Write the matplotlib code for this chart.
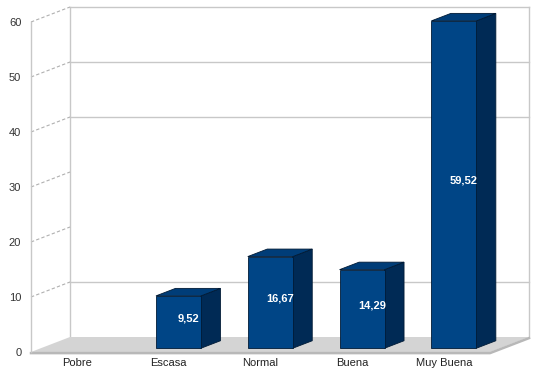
import matplotlib
matplotlib.use('Agg')
import matplotlib.pyplot as plt
from matplotlib.patches import Polygon
from matplotlib.lines import Line2D

categories = ['Pobre', 'Escasa', 'Normal', 'Buena', 'Muy Buena']
values = [0, 9.52, 16.67, 14.29, 59.52]
value_labels = ['', '9,52', '16,67', '14,29', '59,52']
y_ticks = [0, 10, 20, 30, 40, 50, 60]
grid_values = [10, 40, 50, 60]

plt.rcParams['font.family'] = ['Liberation Sans', 'DejaVu Sans']

fig = plt.figure(figsize=(5.4, 3.76), dpi=100)
ax = fig.add_axes([31 / 540, 24 / 376, 459 / 540, 330 / 376])
ax.set_xlim(-0.5, len(categories) - 0.5)
ax.set_ylim(0, 60)

# oblique depth offsets (in data units per unit depth)
DX = 39 / 91.8
DY = 15 / 5.5


def P(x, y, d):
    return (x + d * DX, y + d * DY)


wall_c = '#c8c8c8'
x0, x1 = -0.5, len(categories) - 0.5

# back wall
for seg in [[P(x0, 0, 1), P(x0, 60, 1)], [P(x1, 0, 1), P(x1, 60, 1)]]:
    ax.add_line(Line2D([seg[0][0], seg[1][0]], [seg[0][1], seg[1][1]],
                       color=wall_c, lw=1, clip_on=False, zorder=1))
for g in grid_values:
    a, b = P(x0, g, 1), P(x1, g, 1)
    ax.add_line(Line2D([a[0], b[0]], [a[1], b[1]], color=wall_c, lw=1,
                       clip_on=False, zorder=1))

# dashed depth lines from the front axis
for t in y_ticks[1:]:
    a, b = P(x0, t, 0), P(x0, t, 1)
    ax.add_line(Line2D([a[0], b[0]], [a[1], b[1]], color='#b0b0b0', lw=0.8,
                       ls=(0, (3, 2)), clip_on=False, zorder=1))

# floor
floor = Polygon([P(x0, 0, 0), P(x1, 0, 0), P(x1, 0, 1), P(x0, 0, 1)],
                closed=True, facecolor='#d4d4d4', edgecolor='none',
                clip_on=False, zorder=2)
ax.add_patch(floor)
a, b, c = P(x0, 0, 0), P(x1, 0, 0), P(x1, 0, 1)
ax.add_line(Line2D([a[0], b[0], c[0]], [a[1] - 0.2, b[1] - 0.2, c[1] - 0.2],
                   color='#b8b8b8', lw=1.8, clip_on=False, zorder=2,
                   solid_joinstyle='miter'))

# bars
w = 0.49
d0, d1 = 0.25, 0.75
front_c, side_c, top_c, edge_c = '#004586', '#002a55', '#003d78', '#001a35'
for i, v in enumerate(values):
    if v <= 0:
        continue
    xl, xr = i - w / 2, i + w / 2
    side = Polygon([P(xr, 0, d0), P(xr, 0, d1), P(xr, v, d1), P(xr, v, d0)],
                   closed=True, facecolor=side_c, edgecolor=edge_c, lw=0.6,
                   clip_on=False, zorder=3)
    top = Polygon([P(xl, v, d0), P(xr, v, d0), P(xr, v, d1), P(xl, v, d1)],
                  closed=True, facecolor=top_c, edgecolor=edge_c, lw=0.6,
                  clip_on=False, zorder=3)
    ax.add_patch(side)
    ax.add_patch(top)
    ax.bar(i + d0 * DX, v, width=w, bottom=d0 * DY, color=front_c,
           edgecolor=edge_c, lw=0.6, zorder=4, clip_on=False)
    cx, cy = P(i, v / 2, 0.5)
    ax.text(cx, cy, value_labels[i], color='white', fontsize=8,
            fontweight='bold', ha='center', va='center', zorder=5)

# axes styling
for s in ['top', 'right', 'bottom']:
    ax.spines[s].set_visible(False)
ax.spines['left'].set_color(wall_c)
ax.spines['left'].set_linewidth(1)
ax.set_yticks(y_ticks)
ax.set_yticklabels([str(t) for t in y_ticks])
ax.set_xticks(range(len(categories)))
ax.set_xticklabels(categories)
ax.tick_params(axis='y', length=0, pad=7, labelsize=8, labelcolor='#333333')
ax.tick_params(axis='x', length=0, pad=4, labelsize=8, labelcolor='#222222')
ax.set_facecolor('none')

fig.savefig('out.png', dpi=100)
